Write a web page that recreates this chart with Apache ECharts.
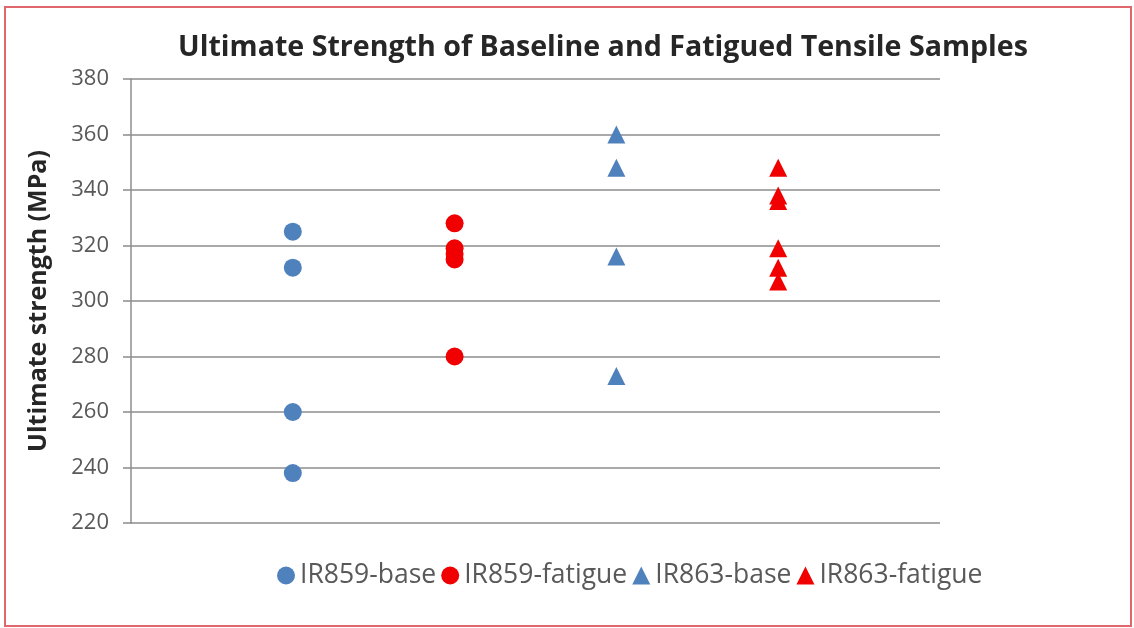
<!DOCTYPE html>
<html>
<head>
<meta charset="utf-8">
<script src="https://cdn.jsdelivr.net/npm/echarts@6/dist/echarts.min.js"></script>
<style>
  html, body { margin: 0; padding: 0; background: #ffffff; }
  #chart { width: 1134px; height: 628px; }
</style>
</head>
<body>
<div id="chart"></div>
<script>
// Ultimate tensile strength (MPa) for each sample group
const seriesNames = ['IR859-base', 'IR859-fatigue', 'IR863-base', 'IR863-fatigue'];
const groupPositions = [1, 2, 3, 4];
const ir859Base = [325, 312, 260, 238];
const ir859Fatigue = [328, 319, 317, 315, 280];
const ir863Base = [360, 348, 316, 273];
const ir863Fatigue = [348, 338, 336, 319, 312, 307];
const yTicks = [220, 240, 260, 280, 300, 320, 340, 360, 380];

const groups = [ir859Base, ir859Fatigue, ir863Base, ir863Fatigue];
const colors = ['#4F81BD', '#F00000', '#4F81BD', '#F00000'];
const symbols = ['circle', 'circle', 'triangle', 'triangle'];
const sizes = [18, 18, 18, 18];

const FONT = '"Open Sans", "DejaVu Sans", sans-serif';

const chart = echarts.init(document.getElementById('chart'), null, { renderer: 'canvas' });

const series = groups.map((vals, i) => ({
  name: seriesNames[i],
  type: 'scatter',
  symbol: symbols[i],
  symbolSize: sizes[i],
  itemStyle: { color: colors[i], opacity: 1 },
  data: vals.map(v => [groupPositions[i], v])
}));

chart.setOption({
  animation: false,
  backgroundColor: '#ffffff',
  title: {
    text: 'Ultimate Strength of Baseline and Fatigued Tensile Samples',
    left: 598,
    textAlign: 'center',
    top: 28,
    textStyle: { fontFamily: FONT, fontSize: 28.6, fontWeight: 'bold', color: '#262626' }
  },
  legend: {
    bottom: 34,
    left: 272,
    itemWidth: 18,
    itemHeight: 18,
    itemGap: 5,
    data: seriesNames.map((n, i) => ({ name: n, icon: symbols[i] })),
    textStyle: { fontFamily: FONT, fontSize: 26.5, color: '#595959' }
  },
  grid: { left: 131, right: 194, top: 79, bottom: 105, containLabel: false },
  xAxis: {
    type: 'value',
    min: 0,
    max: 5,
    show: false
  },
  yAxis: {
    type: 'value',
    min: yTicks[0],
    max: yTicks[yTicks.length - 1],
    interval: yTicks[1] - yTicks[0],
    name: 'Ultimate strength (MPa)',
    nameLocation: 'middle',
    nameGap: 80,
    nameTextStyle: { fontFamily: FONT, fontSize: 25, fontWeight: 'bold', color: '#262626' },
    axisLine: { show: true, lineStyle: { color: '#8c8c8c', width: 1.5 } },
    axisTick: { show: true, inside: false, length: 8, lineStyle: { color: '#8c8c8c', width: 1.5 } },
    axisLabel: { fontFamily: FONT, fontSize: 22, color: '#595959', margin: 22 },
    splitLine: { show: true, lineStyle: { color: '#8c8c8c', width: 1.5 } }
  },
  graphic: [{
    type: 'rect',
    shape: { x: 5, y: 7, width: 1126, height: 619 },
    style: { fill: 'none', stroke: '#E0676B', lineWidth: 2 },
    silent: true
  }],
  series: series
});
</script>
</body>
</html>
